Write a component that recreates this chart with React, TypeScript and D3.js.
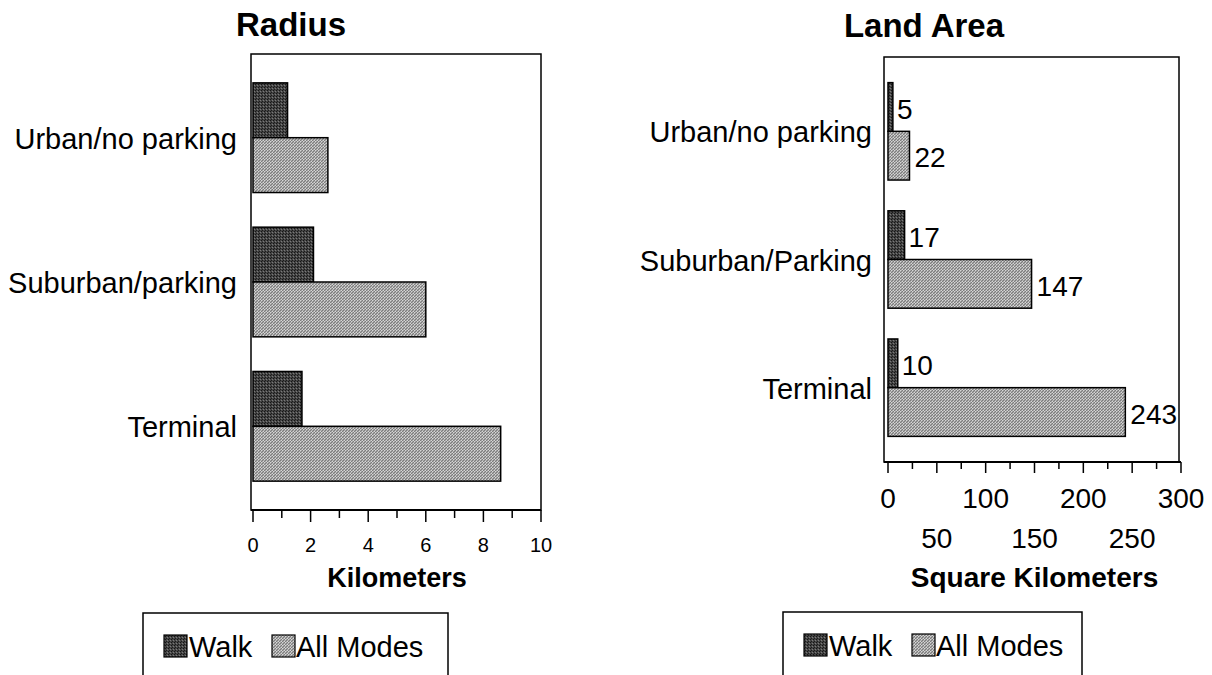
import React from "react";
import * as d3 from "d3";

const categoriesLeft = ["Urban/no parking", "Suburban/parking", "Terminal"];
const categoriesRight = ["Urban/no parking", "Suburban/Parking", "Terminal"];
const radiusWalk = [1.2, 2.1, 1.7];
const radiusAll = [2.6, 6.0, 8.6];
const areaWalk = [5, 17, 10];
const areaAll = [22, 147, 243];
const radiusTicks = [0, 2, 4, 6, 8, 10];
const areaTicksRow1 = [0, 100, 200, 300];
const areaTicksRow2 = [50, 150, 250];
const seriesNames = ["Walk", "All Modes"];

const FONT = "'Liberation Sans', Arial, Helvetica, sans-serif";

function Patterns() {
  return (
    <defs>
      <pattern id="walkPat" width="3" height="3" patternUnits="userSpaceOnUse">
        <rect width="3" height="3" fill="#454545" />
        <rect x="0" y="0" width="1" height="1" fill="#151515" />
        <rect x="1" y="2" width="1" height="1" fill="#1c1c1c" />
        <rect x="2" y="1" width="1" height="1" fill="#7a7a7a" />
      </pattern>
      <pattern id="allPat" width="3" height="3" patternUnits="userSpaceOnUse">
        <rect width="3" height="3" fill="#ababab" />
        <rect x="0" y="2" width="1" height="1" fill="#7c7c7c" />
        <rect x="1" y="1" width="1" height="1" fill="#7c7c7c" />
        <rect x="2" y="0" width="1" height="1" fill="#7c7c7c" />
        <rect x="0" y="0" width="1" height="1" fill="#d6d6d6" />
        <rect x="2" y="2" width="1" height="1" fill="#d6d6d6" />
      </pattern>
    </defs>
  );
}

function Legend({ x, y, w }: { x: number; y: number; w: number }) {
  const fills = ["url(#walkPat)", "url(#allPat)"];
  const offsets = [
    { sw: 21, tx: 46 },
    { sw: 129, tx: 153 },
  ];
  return (
    <g>
      <rect x={x} y={y} width={w} height={90} fill="white" stroke="black" strokeWidth={1.5} />
      {seriesNames.map((n, i) => (
        <g key={n}>
          <rect x={x + offsets[i].sw} y={y + 22} width={23} height={22} fill={fills[i]} stroke="black" strokeWidth={1.2} />
          <text x={x + offsets[i].tx} y={y + 44} fontSize={29} fontFamily={FONT} fill="black">{n}</text>
        </g>
      ))}
    </g>
  );
}

export default function App() {
  // Left chart: Radius
  const lTop = 54, lBottom = 510;
  const lx = d3.scaleLinear().domain([0, 10]).range([253, 541]);
  const ly = d3.scalePoint<string>().domain(categoriesLeft).range([lTop, lBottom]).padding(0.58);
  const lStep = ly.step();
  const lBarH = lStep * 0.38;

  // Right chart: Land Area
  const rTop = 57, rBottom = 462;
  const rx = d3.scaleLinear().domain([0, 300]).range([888, 1181]);
  const ry = d3.scalePoint<string>().domain(categoriesRight).range([rTop, rBottom]).padding(0.58);
  const rStep = ry.step();
  const rBarH = rStep * 0.38;

  const lMinor = d3.range(0, 11, 1);
  const rMinor = d3.range(0, 301, 25);

  return (
    <svg width={1212} height={675} style={{ position: "absolute", left: 0, top: 0, background: "white" }}>
      <Patterns />
      <rect width={1212} height={675} fill="white" />

      {/* ===== Left chart ===== */}
      <text x={291} y={36} textAnchor="middle" fontSize={33} fontWeight="bold" fontFamily={FONT}>Radius</text>
      <rect x={lx(0) - 2} y={lTop} width={lx(10) - lx(0) + 2} height={lBottom - lTop} fill="none" stroke="black" strokeWidth={1.5} />
      {categoriesLeft.map((c, i) => {
        const cy = ly(c)!;
        return (
          <g key={c}>
            <rect x={lx(0)} y={cy - lBarH} width={lx(radiusWalk[i]) - lx(0)} height={lBarH} fill="url(#walkPat)" stroke="black" strokeWidth={1.5} />
            <rect x={lx(0)} y={cy} width={lx(radiusAll[i]) - lx(0)} height={lBarH} fill="url(#allPat)" stroke="black" strokeWidth={1.5} />
            <text x={237} y={cy + 1} dy="0.35em" textAnchor="end" fontSize={29} fontFamily={FONT}>{c}</text>
          </g>
        );
      })}
      <line x1={lx(0) - 2} x2={lx(10)} y1={lBottom} y2={lBottom} stroke="black" strokeWidth={2} />
      {lMinor.map((t) => (
        <line key={t} x1={lx(t)} x2={lx(t)} y1={lBottom} y2={lBottom + (t % 2 === 0 ? 12 : 8)} stroke="black" strokeWidth={1.5} />
      ))}
      {radiusTicks.map((t) => (
        <text key={t} x={lx(t)} y={552} textAnchor="middle" fontSize={20} fontFamily={FONT}>{t}</text>
      ))}
      <text x={(lx(0) + lx(10)) / 2} y={587} textAnchor="middle" fontSize={27} fontWeight="bold" fontFamily={FONT}>Kilometers</text>
      <Legend x={143} y={613} w={305} />

      {/* ===== Right chart ===== */}
      <text x={924} y={37} textAnchor="middle" fontSize={33} fontWeight="bold" fontFamily={FONT}>Land Area</text>
      <rect x={rx(0) - 4} y={rTop} width={rx(300) - rx(0) + 2} height={rBottom - rTop} fill="none" stroke="black" strokeWidth={1.5} />
      {categoriesRight.map((c, i) => {
        const cy = ry(c)!;
        return (
          <g key={c}>
            <rect x={rx(0)} y={cy - rBarH} width={rx(areaWalk[i]) - rx(0)} height={rBarH} fill="url(#walkPat)" stroke="black" strokeWidth={1.5} />
            <rect x={rx(0)} y={cy} width={rx(areaAll[i]) - rx(0)} height={rBarH} fill="url(#allPat)" stroke="black" strokeWidth={1.5} />
            <text x={rx(areaWalk[i]) + 4} y={cy - rBarH / 2 + 2} dy="0.35em" fontSize={28} fontFamily={FONT}>{areaWalk[i]}</text>
            <text x={rx(areaAll[i]) + 5} y={cy + rBarH / 2 + 2} dy="0.35em" fontSize={28} fontFamily={FONT}>{areaAll[i]}</text>
            <text x={872} y={cy + 1} dy="0.35em" textAnchor="end" fontSize={29} fontFamily={FONT}>{c}</text>
          </g>
        );
      })}
      <line x1={rx(0) - 4} x2={rx(300)} y1={rBottom} y2={rBottom} stroke="black" strokeWidth={2} />
      {rMinor.map((t) => (
        <line key={t} x1={rx(t)} x2={rx(t)} y1={rBottom} y2={rBottom + (t % 50 === 0 ? 11 : 7)} stroke="black" strokeWidth={1.5} />
      ))}
      {areaTicksRow1.map((t) => (
        <text key={t} x={rx(t)} y={508} textAnchor="middle" fontSize={28} fontFamily={FONT}>{t}</text>
      ))}
      {areaTicksRow2.map((t) => (
        <text key={t} x={rx(t)} y={548} textAnchor="middle" fontSize={28} fontFamily={FONT}>{t}</text>
      ))}
      <text x={(rx(0) + rx(300)) / 2} y={587} textAnchor="middle" fontSize={28} fontWeight="bold" fontFamily={FONT}>Square Kilometers</text>
      <Legend x={783} y={612} w={299} />
    </svg>
  );
}
